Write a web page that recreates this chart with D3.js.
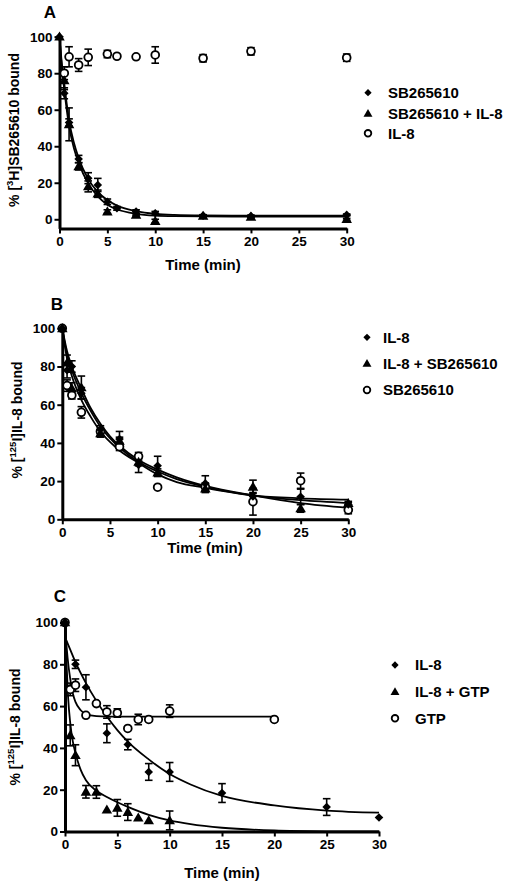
<!DOCTYPE html>
<html><head><meta charset="utf-8">
<script src="https://cdn.jsdelivr.net/npm/d3@7"></script>
<style>
html,body{margin:0;padding:0;background:#fff;}
svg{display:block;}
text{font-family:'Liberation Sans',Arial,sans-serif;font-weight:bold;fill:#000;}
</style></head>
<body>
<svg id="chart" width="505" height="881"></svg>
<script>
// ---------- DATA ----------
const xTicks = [0, 5, 10, 15, 20, 25, 30];
const yTicks = [0, 20, 40, 60, 80, 100];

// Panel A
const legendA = ["SB265610", "SB265610 + IL-8", "IL-8"];
const tA_SB = [0, 0.5, 1, 2, 3, 4, 5, 6, 8, 10, 15, 20, 30];
const vA_SB = [100, 69, 53, 33, 22.5, 18.8, 9.6, 6, 4.2, 3.3, 2, 1.8, 2.4];
const eA_SB = [0, 3, 2, 2, 3, 3.6, 1.5, 1, 1, 1, 0.5, 0.5, 0.5];
const tA_SBIL = [0, 0.5, 1, 2, 3, 4, 5, 8, 10, 15, 20, 30];
const vA_SBIL = [100, 76, 52, 29, 18, 14, 4.2, 2.4, -1, 1.8, 1.3, 0];
const eA_SBIL = [0, 5, 9, 2, 3, 2, 1, 0.5, 1, 0.5, 0.5, 0.5];
const tA_IL = [0.5, 1, 2, 3, 5, 6, 8, 10, 15, 20, 30];
const vA_IL = [80, 89, 84.5, 88.7, 90.5, 89.3, 89, 90, 88.2, 92, 88.5];
const eA_IL = [3.5, 5.5, 3.5, 4.5, 2, 0, 0, 4.5, 2, 2, 2];
// fitted curves
const cA_SB_t = [0, 0.25, 0.5, 1, 1.5, 2, 3, 4, 5, 6, 8, 10, 12, 15, 20, 30];
const cA_SB_v = [100, 85, 74, 54, 42, 33.5, 22, 15, 10.5, 7.5, 4.5, 3, 2.4, 2.1, 2, 2];
const cA_SBIL_t = [0, 0.25, 0.5, 1, 1.5, 2, 3, 4, 5, 6, 8, 10, 12, 15, 20, 30];
const cA_SBIL_v = [100, 83, 71, 51, 39, 31, 19.5, 12.5, 8, 5.5, 3, 2, 1.7, 1.6, 1.5, 1.5];

// Panel B
const legendB = ["IL-8", "IL-8 + SB265610", "SB265610"];
const tB_IL = [0, 0.5, 1, 2, 4, 6, 8, 10, 15, 20, 25, 30];
const vB_IL = [100, 78, 80, 66, 47, 42, 28.5, 28, 18.8, 12, 11.8, 7.8];
const eB_IL = [0, 4, 3, 3, 2, 4, 4, 5, 4, 2, 4, 1];
const tB_ILSB = [0, 0.5, 1, 2, 4, 6, 8, 10, 15, 20, 25, 30];
const vB_ILSB = [100, 82, 68.5, 69, 45, 41, 30, 24.4, 16, 17, 5.7, 8.4];
const eB_ILSB = [0, 4, 3, 6, 2, 2, 2, 2, 2, 3.5, 2, 1];
const tB_SB = [0, 0.5, 1, 2, 4, 6, 8, 10, 15, 20, 25, 30];
const vB_SB = [100, 70, 65, 56, 46, 38, 33, 16.8, 17, 9.2, 20.2, 4.9];
const eB_SB = [0, 3, 2, 3, 2, 2, 2, 0, 2, 7, 4, 2];
const cB_t = [0, 0.5, 1, 2, 3, 4, 5, 6, 8, 10, 12, 15, 20, 25, 30];
const cB_IL_v = [100, 86, 78, 66, 56.5, 48.5, 42.5, 37.5, 30, 25, 21, 17, 12.5, 10, 8.5];
const cB_ILSB_v = [100, 88, 80, 68.5, 58, 50, 43.5, 38.5, 31, 26, 22, 17.5, 12.5, 8.5, 6];
const cB_SB_v = [100, 84, 75, 62.5, 53.5, 46, 40.5, 36, 29.5, 23.5, 19.5, 16.5, 12.5, 11, 10.3];

// Panel C
const legendC = ["IL-8", "IL-8 + GTP", "GTP"];
const tC_IL = [0, 1, 2, 4, 6, 8, 10, 15, 25, 30];
const vC_IL = [100, 80, 69, 47, 41.6, 28.5, 28.5, 18.4, 11.7, 6.7];
const eC_IL = [0, 2, 6, 4.5, 2.5, 4, 4.5, 4.5, 4, 0];
const tC_ILG = [0, 0.5, 1, 2, 3, 4, 5, 6, 7, 8, 10];
const vC_ILG = [100, 46, 36.5, 19, 18.9, 10.4, 11.3, 9.3, 6.6, 5.3, 5.3];
const eC_ILG = [0, 5, 5, 3, 3, 0, 4, 4, 0, 0, 4.5];
const tC_G = [0, 0.5, 1, 2, 3, 4, 5, 6, 7, 8, 10, 20];
const vC_G = [100, 68, 70, 55.6, 61.2, 57.2, 56.7, 49.3, 53.6, 53.6, 57.6, 53.6];
const eC_G = [0, 3, 3, 0, 0, 3, 2, 0, 2.5, 0, 3, 0];
const cC_IL_t = [0, 0.5, 1, 2, 3, 4, 5, 6, 8, 10, 12, 15, 20, 25, 30];
const cC_IL_v = [93, 87, 81, 71, 62.5, 55, 48.5, 43, 34.5, 27.5, 22.5, 17, 12.5, 10, 9];
const cC_ILG_t = [0, 0.15, 0.3, 0.5, 0.75, 1, 1.5, 2, 3, 4, 5, 6, 8, 10, 12, 15, 20, 25, 30];
const cC_ILG_v = [100, 80, 64, 52, 43, 37.5, 29.5, 24.5, 19.5, 16.5, 14, 11.8, 8, 5.3, 3.5, 1.8, 0.5, 0.1, 0];
const cC_G_t = [0, 0.1, 0.25, 0.5, 0.75, 1, 1.5, 2, 3, 4, 20];
const cC_G_v = [100, 92, 83, 73, 66, 62, 58, 56.2, 55.2, 55, 55];

// ---------- DRAWING ----------
const svg = d3.select("#chart");
const zip = (a, b, e) => a.map((t, i) => ({t, v: b[i], e: e ? e[i] : 0}));

function diamondPath(s) { return `M0,${-s}L${s},0L0,${s}L${-s},0Z`; }

function marker(g, type, x, y, scale) {
  const k = scale || 1;
  if (type === "diamond") {
    g.append("path").attr("d", diamondPath(4.3 * k)).attr("transform", `translate(${x},${y})`).attr("fill", "#000");
  } else if (type === "triangle") {
    g.append("path").attr("d", d3.symbol(d3.symbolTriangle, 48 * k * k)()).attr("transform", `translate(${x},${y + 0.8})`).attr("fill", "#000");
  } else {
    g.append("circle").attr("cx", x).attr("cy", y).attr("r", 3.9 * k)
      .attr("fill", "#fff").attr("stroke", "#000").attr("stroke-width", 1.8);
  }
}

function drawPanel(cfg) {
  const g = svg.append("g");
  const x = d3.scaleLinear().domain([0, 30]).range(cfg.xr);
  const y = d3.scaleLinear().domain([cfg.ymin, 100]).range(cfg.yr);

  // axes
  const ax = g.append("g").attr("transform", `translate(0,${y(cfg.ymin)})`)
    .call(d3.axisBottom(x).tickValues(xTicks).tickSize(5).tickSizeOuter(0).tickPadding(3));
  const ay = g.append("g").attr("transform", `translate(${x(0)},0)`)
    .call(d3.axisLeft(y).tickValues(yTicks).tickSize(5).tickSizeOuter(0).tickPadding(2));
  [ax, ay].forEach(a => {
    a.select(".domain").attr("stroke", "#000").attr("stroke-width", 3);
    a.selectAll(".tick line").attr("stroke", "#000").attr("stroke-width", 2);
    a.selectAll(".tick text").style("font-size", "13.5px").style("font-weight", "bold")
      .style("font-family", "'Liberation Sans',Arial,sans-serif").attr("fill", "#000");
  });

  const line = d3.line().x(d => x(d.t)).y(d => y(d.v)).curve(d3.curveMonotoneX);
  const cg = g.append("g");
  cfg.curves.forEach(c => {
    cg.append("path").datum(zip(c.t, c.v)).attr("d", line)
      .attr("fill", "none").attr("stroke", "#000").attr("stroke-width", 1.8);
  });

  cfg.series.forEach(s => {
    const pts = zip(s.t, s.v, s.e);
    const eg = g.append("g").attr("stroke", "#000").attr("stroke-width", 1.6);
    pts.filter(d => d.e > 0).forEach(d => {
      const xx = x(d.t), y1 = y(d.v - d.e), y2 = y(d.v + d.e);
      eg.append("line").attr("x1", xx).attr("x2", xx).attr("y1", y1).attr("y2", y2);
      eg.append("line").attr("x1", xx - 3.8).attr("x2", xx + 3.8).attr("y1", y1).attr("y2", y1);
      eg.append("line").attr("x1", xx - 3.8).attr("x2", xx + 3.8).attr("y1", y2).attr("y2", y2);
    });
  });
  // markers: open circles first, then filled ones on top
  const order = ["circle", "triangle", "diamond"];
  order.forEach(type => {
    cfg.series.filter(s => s.type === type).forEach(s => {
      const mg = g.append("g");
      zip(s.t, s.v).forEach(d => marker(mg, s.type, x(d.t), y(d.v)));
    });
  });

  // y-axis title
  const yt = g.append("text")
    .attr("transform", `translate(${cfg.ylabX},${cfg.ylabY}) rotate(-90)`)
    .attr("text-anchor", "middle").style("font-size", "14px");
  yt.append("tspan").text("% [");
  yt.append("tspan").text(cfg.sup).attr("dy", -6).style("font-size", "9.5px");
  yt.append("tspan").text(cfg.ylabRest).attr("dy", 6);

  // x-axis title
  g.append("text").attr("x", cfg.xlabX).attr("y", cfg.xlabY).attr("text-anchor", "middle")
    .style("font-size", "15px").text("Time (min)");

  // panel letter
  g.append("text").attr("x", cfg.letterX).attr("y", cfg.letterY).attr("text-anchor", "middle")
    .style("font-size", "17px").text(cfg.letter);

  // legend
  const lg = g.append("g");
  cfg.series.forEach((s, i) => {
    const ly = cfg.legY[i];
    marker(lg, s.type, cfg.legMX, ly, 0.85);
    lg.append("text").attr("x", cfg.legTX).attr("y", ly).attr("dy", "0.36em")
      .style("font-size", "15px").text(cfg.legend[i]);
  });
}

drawPanel({
  letter: "A", letterX: 50, letterY: 18,
  xr: [59.5, 346.7], ymin: -5, yr: [228.4, 36.7],
  sup: "3", ylabRest: "H]SB265610 bound", ylabX: 19, ylabY: 130,
  xlabX: 203, xlabY: 270,
  legend: legendA, legMX: 368, legTX: 388, legY: [92.7, 113.3, 133.3],
  series: [
    {type: "diamond", t: tA_SB, v: vA_SB, e: eA_SB},
    {type: "triangle", t: tA_SBIL, v: vA_SBIL, e: eA_SBIL},
    {type: "circle", t: tA_IL, v: vA_IL, e: eA_IL}
  ],
  curves: [{t: cA_SB_t, v: cA_SB_v}, {t: cA_SBIL_t, v: cA_SBIL_v}]
});

drawPanel({
  letter: "B", letterX: 57, letterY: 310,
  xr: [62.3, 348.3], ymin: 0, yr: [519.3, 328.3],
  sup: "125", ylabRest: "I]IL-8 bound", ylabX: 22, ylabY: 420,
  xlabX: 205, xlabY: 553,
  legend: legendB, legMX: 367, legTX: 383, legY: [337.3, 363.3, 390],
  series: [
    {type: "diamond", t: tB_IL, v: vB_IL, e: eB_IL},
    {type: "triangle", t: tB_ILSB, v: vB_ILSB, e: eB_ILSB},
    {type: "circle", t: tB_SB, v: vB_SB, e: eB_SB}
  ],
  curves: [{t: cB_t, v: cB_IL_v}, {t: cB_t, v: cB_ILSB_v}, {t: cB_t, v: cB_SB_v}]
});

drawPanel({
  letter: "C", letterX: 60, letterY: 602,
  xr: [65, 379], ymin: 0, yr: [831.5, 622.5],
  sup: "125", ylabRest: "I]IL-8 bound", ylabX: 20, ylabY: 727,
  xlabX: 222, xlabY: 878,
  legend: legendC, legMX: 395, legTX: 415, legY: [665, 691.7, 718.3],
  series: [
    {type: "diamond", t: tC_IL, v: vC_IL, e: eC_IL},
    {type: "triangle", t: tC_ILG, v: vC_ILG, e: eC_ILG},
    {type: "circle", t: tC_G, v: vC_G, e: eC_G}
  ],
  curves: [{t: cC_IL_t, v: cC_IL_v}, {t: cC_ILG_t, v: cC_ILG_v}, {t: cC_G_t, v: cC_G_v}]
});
</script>
</body></html>
